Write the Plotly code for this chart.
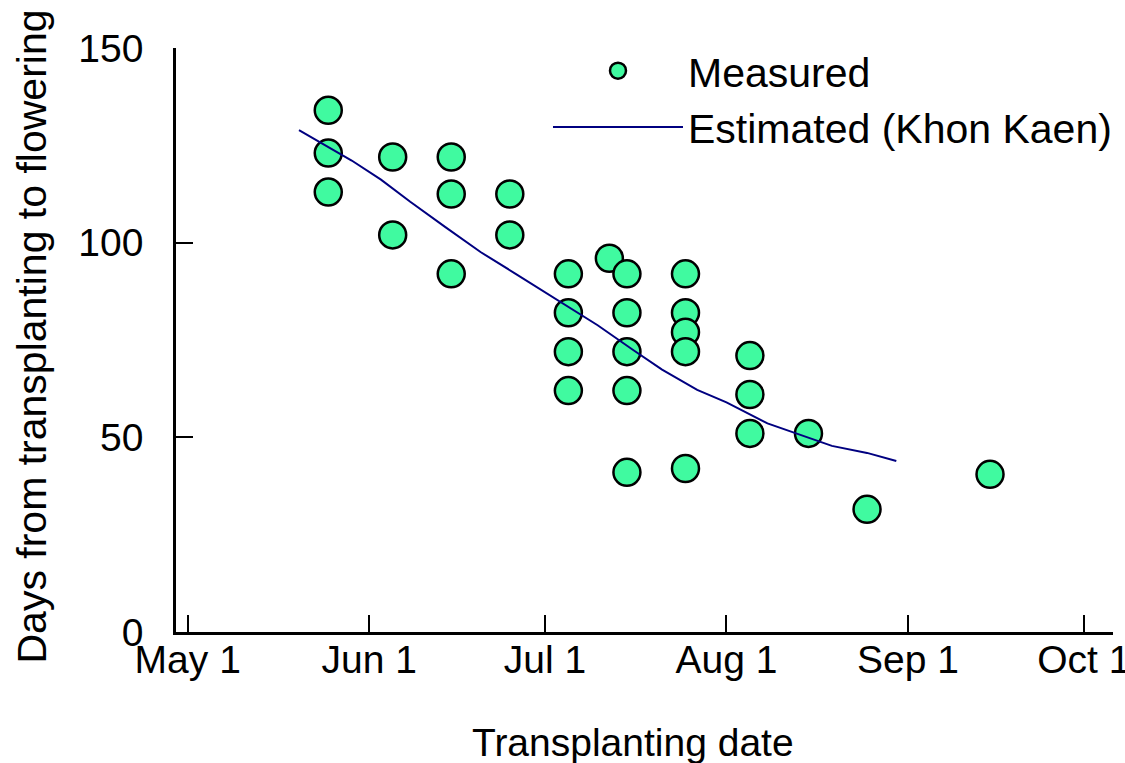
import plotly.graph_objects as go

# ---- data ----
meas_dates = (["2003-05-25"] * 3 + ["2003-06-05"] * 2 + ["2003-06-15"] * 3 +
              ["2003-06-25"] * 2 + ["2003-07-05"] * 4 + ["2003-07-12"] +
              ["2003-07-15"] * 5 + ["2003-07-25"] * 5 + ["2003-08-05"] * 3 +
              ["2003-08-15", "2003-08-25", "2003-09-15"])
meas_days = [134, 123, 113,
             122, 102,
             122, 112.5, 92,
             112.5, 102,
             92, 82, 72, 62,
             96,
             92, 82, 72, 62, 41,
             92, 82, 77, 72, 42,
             71, 61, 51,
             51, 31.5, 40.5]

est_dates = ["2003-05-20", "2003-05-29", "2003-06-03", "2003-06-08", "2003-06-14",
             "2003-06-20", "2003-06-26", "2003-07-03", "2003-07-10", "2003-07-16",
             "2003-07-21", "2003-07-27", "2003-08-01", "2003-08-08", "2003-08-13",
             "2003-08-19", "2003-08-25", "2003-08-30"]
est_days = [128.9, 121.1, 116.2, 110.5, 104.0,
            97.6, 92.0, 85.3, 78.8, 72.5,
            67.4, 62.2, 59.0, 53.6, 50.9,
            47.8, 46.0, 43.9]

tick_vals = ["2003-05-01", "2003-06-01", "2003-07-01", "2003-08-01", "2003-09-01", "2003-10-01"]
tick_text = ["May 1", "Jun 1", "Jul 1", "Aug 1", "Sep 1", "Oct 1"]
y_ticks = [0, 50, 100, 150]

FONT = "Liberation Sans"

fig = go.Figure()
fig.add_trace(go.Scatter(
    x=meas_dates, y=meas_days, mode="markers", name="Measured",
    legendgroup="a",
    marker=dict(symbol="circle", size=27, color="#40FAA0",
                line=dict(color="black", width=2.5)),
))
fig.add_trace(go.Scatter(
    x=est_dates, y=est_days, mode="lines", name="Estimated (Khon Kaen)",
    legendgroup="b",
    line=dict(color="#000080", width=2),
))

fig.update_layout(
    width=1125, height=763,
    margin=dict(l=176, r=12, t=48, b=131, autoexpand=False),
    paper_bgcolor="white", plot_bgcolor="white",
    font=dict(family=FONT, size=39, color="black"),
    showlegend=True,
    legend=dict(x=0.397, y=1.018, xanchor="left", yanchor="top",
                bgcolor="rgba(0,0,0,0)", font=dict(size=41, family=FONT),
                tracegroupgap=0, itemsizing="trace", itemwidth=130),
    xaxis=dict(type="date", range=["2003-04-29", "2003-10-06"],
               tickvals=tick_vals, ticktext=tick_text,
               showline=True, linecolor="black", linewidth=2.5,
               ticks="inside", ticklen=17, tickwidth=2, tickcolor="black",
               showgrid=False, zeroline=False, automargin=False,
               ticklabeloverflow="allow", ticklabelstandoff=-9,
               tickfont=dict(size=39, family=FONT)),
    yaxis=dict(range=[0, 150], tickvals=y_ticks,
               showline=True, linecolor="black", linewidth=2.5,
               ticks="inside", ticklen=17, tickwidth=2, tickcolor="black",
               showgrid=False, zeroline=False, automargin=False,
               ticklabelstandoff=22,
               tickfont=dict(size=39, family=FONT)),
    annotations=[
        dict(text="Transplanting date", xref="paper", yref="paper",
             x=0.4877, y=0, xanchor="center", yanchor="middle", yshift=-110,
             showarrow=False, font=dict(size=39, family=FONT)),
        dict(text="Days from transplanting to flowering", xref="paper", yref="paper",
             x=0, y=0.506, xanchor="center", yanchor="middle", xshift=-144,
             textangle=-90, showarrow=False, font=dict(size=41, family=FONT)),
    ],
)

fig.write_html("out.html")
